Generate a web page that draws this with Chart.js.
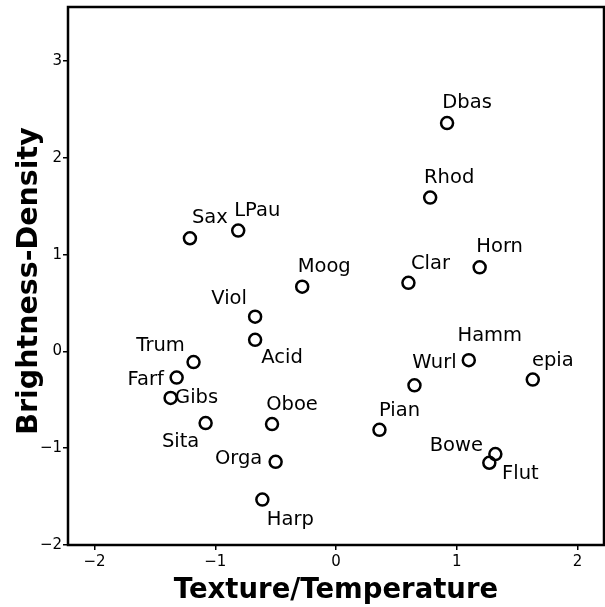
<!DOCTYPE html>
<html>
<head>
<meta charset="utf-8">
<script src="https://cdn.jsdelivr.net/npm/chart.js@4"></script>
<style>
  html, body { margin: 0; padding: 0; background: #fff; }
  #wrap { width: 605px; height: 607px; }
</style>
</head>
<body>
<div id="wrap"><canvas id="chart" width="605" height="607"></canvas></div>
<script>
// instrument labels and their coordinates
const names = ['Dbas', 'Rhod', 'Horn', 'Clar', 'Sax', 'LPau', 'Moog', 'Viol', 'Acid', 'Trum', 'Farf',
               'Gibs', 'Sita', 'Oboe', 'Orga', 'Harp', 'Pian', 'Bowe', 'Flut', 'Hamm', 'Wurl', 'epia'];
const texture = [0.92, 0.78, 1.19, 0.60, -1.21, -0.81, -0.28, -0.67, -0.67, -1.18, -1.32,
                 -1.37, -1.08, -0.53, -0.50, -0.61, 0.36, 1.32, 1.27, 1.10, 0.65, 1.63];
const brightness = [2.36, 1.59, 0.87, 0.71, 1.17, 1.25, 0.67, 0.36, 0.12, -0.11, -0.27,
                    -0.48, -0.74, -0.75, -1.14, -1.53, -0.81, -1.06, -1.15, -0.09, -0.35, -0.29];
const xTicks = [-2, -1, 0, 1, 2];
const yTicks = [-2, -1, 0, 1, 2, 3];

// where each name sits relative to its marker (px)
const labelShift = [[20, -20], [19, -20], [20, -20], [22, -19], [20, -20], [19, -20], [22, -20], [-26, -18],
                    [27, 18], [-33, -16], [-31, 2], [26, 0], [-25, 19], [20, -19], [-37, -3], [28, 20],
                    [20, -19], [-39, -8], [31, 11], [21, -24], [20, -22], [20, -19]];

const minus = v => String(v).replace('-', '\u2212');

const boxPlugin = {
  id: 'box',
  afterDraw(chart) {
    const { ctx, chartArea: a } = chart;
    ctx.save();
    ctx.strokeStyle = '#000';
    ctx.lineWidth = 2.5;
    ctx.strokeRect(a.left, a.top, a.right - a.left, a.bottom - a.top);
    ctx.restore();
  }
};

const namePlugin = {
  id: 'names',
  afterDatasetsDraw(chart) {
    const { ctx } = chart;
    const meta = chart.getDatasetMeta(0);
    ctx.save();
    ctx.font = '19.5px "DejaVu Sans"';
    ctx.fillStyle = '#000';
    ctx.textAlign = 'center';
    ctx.textBaseline = 'middle';
    meta.data.forEach((pt, i) => {
      ctx.fillText(names[i], pt.x + labelShift[i][0], pt.y + labelShift[i][1]);
    });
    ctx.restore();
  }
};

new Chart(document.getElementById('chart').getContext('2d'), {
  type: 'scatter',
  data: {
    datasets: [{
      data: texture.map((x, i) => ({ x: x, y: brightness[i] })),
      pointRadius: 6,
      pointHoverRadius: 6,
      pointBorderWidth: 2.5,
      borderColor: '#000',
      backgroundColor: 'rgba(0,0,0,0)'
    }]
  },
  plugins: [boxPlugin, namePlugin],
  options: {
    responsive: false,
    animation: false,
    events: [],
    layout: { autoPadding: false, padding: { top: 7, right: 1, left: 0, bottom: 0 } },
    plugins: { legend: { display: false }, tooltip: { enabled: false } },
    scales: {
      x: {
        type: 'linear',
        min: -2.22,
        max: 2.22,
        afterBuildTicks: s => { s.ticks = xTicks.map(v => ({ value: v })); },
        afterFit: s => { s.height = 62; s.paddingLeft = 0; s.paddingRight = 0; },
        border: { display: false },
        grid: { drawOnChartArea: false, drawTicks: true, tickLength: 5, color: '#000', lineWidth: 1.5 },
        ticks: { color: '#000', padding: 3, font: { family: 'DejaVu Sans', size: 15 }, callback: v => minus(v) },
        title: {
          display: true,
          text: 'Texture/Temperature',
          color: '#000',
          font: { family: 'DejaVu Sans', size: 27.5, weight: 'bold' },
          padding: { top: 0, bottom: 0 }
        }
      },
      y: {
        type: 'linear',
        min: -2,
        max: 3.56,
        afterBuildTicks: s => { s.ticks = yTicks.map(v => ({ value: v })); },
        afterFit: s => { s.width = 68; s.paddingTop = 0; s.paddingBottom = 0; },
        border: { display: false },
        grid: { drawOnChartArea: false, drawTicks: true, tickLength: 5, color: '#000', lineWidth: 1.5 },
        ticks: { color: '#000', padding: 1, font: { family: 'DejaVu Sans', size: 15 }, callback: v => minus(v) },
        title: {
          display: true,
          text: 'Brightness-Density ',
          color: '#000',
          font: { family: 'DejaVu Sans', size: 28.5, weight: 'bold' },
          padding: { top: 12, bottom: 0 }
        }
      }
    }
  }
});
</script>
</body>
</html>
